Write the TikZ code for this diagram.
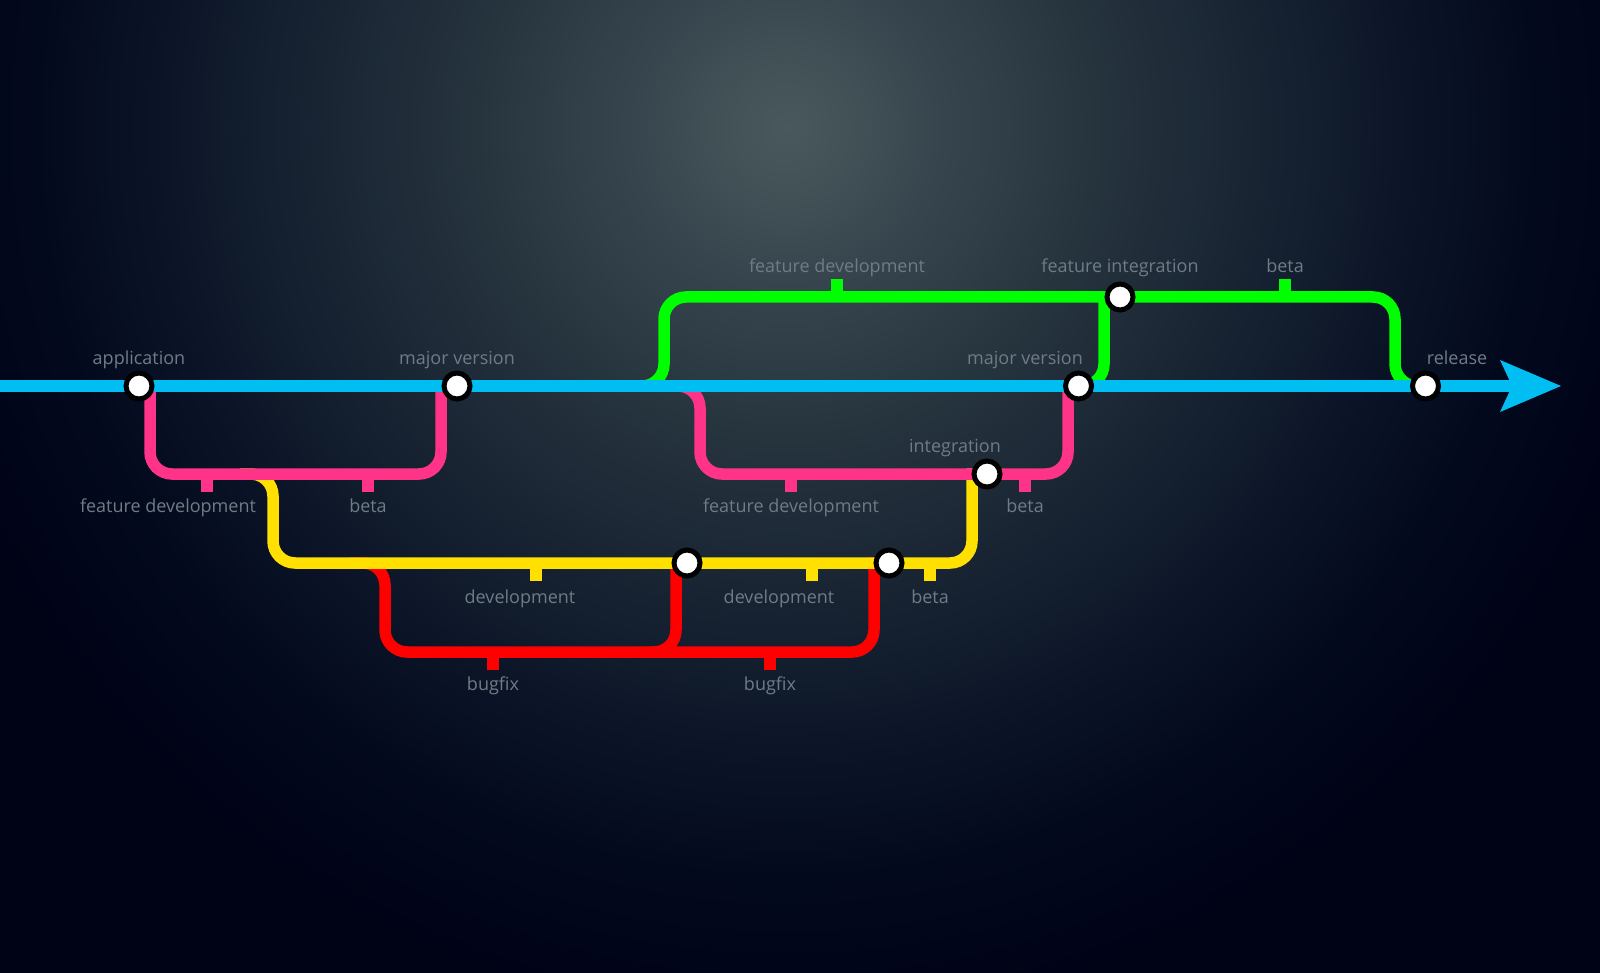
\documentclass[tikz,border=0pt]{standalone}
\usepackage{fontspec}
\setmainfont{Open Sans}
\pgfdeclarelayer{bgl}
\pgfdeclarelayer{lines}
\pgfsetlayers{bgl,lines,main}
\definecolor{c0}{HTML}{48585C}
\definecolor{c1}{HTML}{425257}
\definecolor{c2}{HTML}{37464E}
\definecolor{c3}{HTML}{27353F}
\definecolor{c4}{HTML}{1A2634}
\definecolor{c5}{HTML}{0D1729}
\definecolor{c6}{HTML}{03091D}
\definecolor{c7}{HTML}{000216}
\definecolor{bluec}{HTML}{00BEF2}
\definecolor{pinkc}{HTML}{FF3388}
\definecolor{yellowc}{HTML}{FFE000}
\definecolor{redc}{HTML}{FF0000}
\definecolor{greenc}{HTML}{00FF00}
\definecolor{labelc}{HTML}{6F7C86}
\pgfdeclareradialshading{bgshade}{\pgfpoint{0bp}{0bp}}{color(0bp)=(c0); color(1.5bp)=(c1); color(3.75bp)=(c2); color(7.5bp)=(c3); color(11.25bp)=(c4); color(15bp)=(c5); color(18.75bp)=(c6); color(22.5bp)=(c7); color(25bp)=(c7); color(50bp)=(c7)}
\tikzset{
  br/.style={line width=11.5pt, rounded corners=22pt, line cap=butt},
  mainline/.style={line width=11.5pt, bluec, line cap=butt},
  tickmark/.style={line width=11.5pt, line cap=butt},
  station/.style={circle, draw=black, line width=5pt, fill=white, minimum size=26pt, inner sep=0pt},
  lbl/.style={anchor=base, text=labelc, inner sep=0pt, font=\fontsize{18}{20}\selectfont}
}
\begin{document}
\begin{tikzpicture}[x=1pt,y=-1pt]
\useasboundingbox (0,0) rectangle (1600,973);
\begin{pgfonlayer}{bgl}
  \fill[c7] (0,0) rectangle (1600,973);
  \begin{scope}
    \clip (0,0) rectangle (1600,973);
    \shade[shading=bgshade] (786,128) circle[radius=1000];
  \end{scope}
\end{pgfonlayer}

% stations
\node[station] (A) at (139,386) {};
\node[station] (M1) at (457,386) {};
\node[station] (Y1) at (687,563) {};
\node[station] (Y2) at (889,563) {};
\node[station] (I) at (987,474) {};
\node[station] (M2) at (1078.5,386) {};
\node[station] (F) at (1120,297) {};
\node[station] (R) at (1425.5,386) {};

% branch start points
\coordinate (ms) at (0,386);
\coordinate (me) at (1512,386);
\coordinate (tip) at (1561,386);
\coordinate (r1s) at (350,563);
\coordinate (r2s) at (650,652);
\coordinate (y1s) at (240,474);
\coordinate (p2s) at (655,386);
\coordinate (g1s) at (620,386);

\begin{pgfonlayer}{lines}
  % red
  \draw[br, redc] (r1s) -- (385,563) -- (385,652) -- (676,652) -- (676,585) .. controls (676,563) .. (Y1.center);
  \draw[br, redc] (r2s) -- (874,652) -- (874,585) .. controls (874,563) .. (Y2.center);
  \draw[tickmark, redc] (493,652) -- ++(0,18);
  \draw[tickmark, redc] (770,652) -- ++(0,18);
  % yellow
  \draw[br, yellowc] (y1s) -- (273,474) -- (273,563) -- (972,563) -- (972,496) .. controls (972,474) .. (I.center);
  \draw[tickmark, yellowc] (536,563) -- ++(0,18);
  \draw[tickmark, yellowc] (812,563) -- ++(0,18);
  \draw[tickmark, yellowc] (930,563) -- ++(0,18);
  % pink
  \draw[br, pinkc] (A.center) .. controls (150,386) .. (150,408) -- (150,474) -- (441,474) -- (441,408) .. controls (441,386) .. (M1.center);
  \draw[br, pinkc] (p2s) -- (700,386) -- (700,474) -- (1068,474) -- (1068,408) .. controls (1068,386) .. (M2.center);
  \draw[tickmark, pinkc] (207,474) -- ++(0,18);
  \draw[tickmark, pinkc] (368,474) -- ++(0,18);
  \draw[tickmark, pinkc] (791,474) -- ++(0,18);
  \draw[tickmark, pinkc] (1025,474) -- ++(0,18);
  % green
  \draw[br, greenc] (g1s) -- (664,386) -- (664,297) -- (1395,297) -- (1395,386) -- (R.center);
  \draw[br, greenc] (M2.center) -- (1104,386) -- (1104,319) .. controls (1104,297) .. (F.center);
  \draw[tickmark, greenc] (837,297) -- ++(0,-18);
  \draw[tickmark, greenc] (1285,297) -- ++(0,-18);
  % main line
  \draw[mainline] (ms) -- (me);
  \fill[bluec] (tip) -- ++(-61,-26) -- ++(12,26) -- ++(-12,26) -- cycle;
\end{pgfonlayer}

% labels
\node[lbl] (lA) at (139,364) {application};
\node[lbl] (lM1) at (457,364) {major version};
\node[lbl] (lFD1) at (168,512) {feature development};
\node[lbl] (lB1) at (368,512) {beta};
\node[lbl] (lD1) at (520,603) {development};
\node[lbl] (lBF1) at (493,690) {bugfix};
\node[lbl] (lD2) at (779,603) {development};
\node[lbl] (lBF2) at (770,690) {bugfix};
\node[lbl] (lB2) at (930,603) {beta};
\node[lbl] (lFD2) at (791,512) {feature development};
\node[lbl] (lI) at (955,452) {integration};
\node[lbl] (lB3) at (1025,512) {beta};
\node[lbl] (lM2) at (1025,364) {major version};
\node[lbl] (lFD3) at (837,273) {feature development};
\node[lbl] (lFI) at (1120,273) {feature integration};
\node[lbl] (lB4) at (1285,273) {beta};
\node[lbl] (lR) at (1457,364) {release};
\end{tikzpicture}
\end{document}
